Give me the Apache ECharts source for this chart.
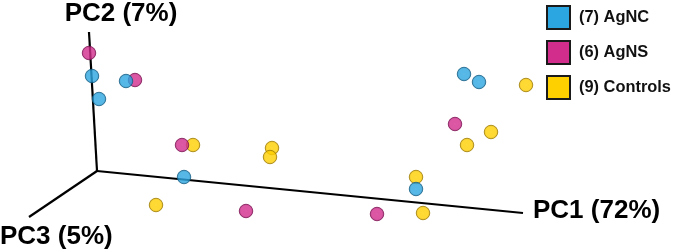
<!DOCTYPE html>
<html>
<head>
<meta charset="utf-8">
<script src="https://cdn.jsdelivr.net/npm/echarts@6/dist/echarts.min.js"></script>
<style>html,body{margin:0;padding:0;background:#fff}#c{width:675px;height:252px}</style>
</head>
<body>
<div id="c"></div>
<script>
// Projected sample positions (chart units)
const categories = ['(7) AgNC', '(6) AgNS', '(9) Controls'];
const agncPoints = [[92,76],[99,99],[126,81],[464,74],[479,82],[184,177],[416,189]];
const agnsPoints = [[89,53],[135,80],[182,145],[455,124],[246,211],[377,214]];
const controlPoints = [[526,85],[193,145],[272,148],[270,157],[156,205],[491,132],[467,145],[416,177],[423,213]];
// Axis endpoints (projected PC axes)
const axisOrigin = [97,171];
const pc1End = [523,213];
const pc2End = [89,32];
const pc3End = [29,217];
const axisLabels = ['PC1 (72%)', 'PC2 (7%)', 'PC3 (5%)'];

const colors = {
  '(7) AgNC': ['#2CA6E0', '#1B7DB0', '#145f86'],
  '(6) AgNS': ['#D22C8C', '#A0186A', '#7d1252'],
  '(9) Controls': ['#FFD000', '#D9A600', '#9e7d00']
};
function sphere(name) {
  const c = colors[name];
  return {
    color: {
      type: 'radial', x: 0.5, y: 0.5, r: 0.5,
      colorStops: [
        {offset: 0, color: '#ffffff'},
        {offset: 0.1, color: c[0]},
        {offset: 0.7, color: c[0]},
        {offset: 1, color: c[1]}
      ]
    },
    borderColor: c[2],
    borderWidth: 1
  };
}
const font = '"Liberation Sans", Arial, sans-serif';
function axisSeries(end) {
  return {
    type: 'line', data: [axisOrigin, end], symbol: 'none', silent: true,
    lineStyle: {color: '#000', width: 2.2}, z: 1, animation: false
  };
}
const chart = echarts.init(document.getElementById('c'));
chart.setOption({
  animation: false,
  grid: {left: 0, right: 0, top: 0, bottom: 0},
  xAxis: {type: 'value', min: 0, max: 675, show: false},
  yAxis: {type: 'value', min: 0, max: 252, inverse: true, show: false},
  legend: {
    orient: 'vertical', left: 546, top: 5, itemWidth: 23, itemHeight: 23, itemGap: 10,
    padding: 0,
    icon: 'rect',
    textStyle: {fontFamily: font, fontWeight: 'bold', fontSize: 16.4, color: '#111', padding: [0,0,0,4]},
    data: categories.map(n => ({name: n, itemStyle: {color: colors[n][0], borderColor: '#1a1a1a', borderWidth: 2, opacity: 1}}))
  },
  series: [
    axisSeries(pc1End), axisSeries(pc2End), axisSeries(pc3End),
    {name: categories[2], type: 'scatter', data: controlPoints, symbolSize: 13.5, itemStyle: sphere(categories[2]), z: 3},
    {name: categories[1], type: 'scatter', data: agnsPoints, symbolSize: 13.5, itemStyle: sphere(categories[1]), z: 4},
    {name: categories[0], type: 'scatter', data: agncPoints, symbolSize: 13.5, itemStyle: sphere(categories[0]), z: 5}
  ],
  graphic: [
    {type: 'text', x: 533, y: 211, style: {text: axisLabels[0], font: 'bold 26px ' + font, fill: '#000', textAlign: 'left', textVerticalAlign: 'middle'}},
    {type: 'text', x: 121, y: 14, style: {text: axisLabels[1], font: 'bold 26px ' + font, fill: '#000', textAlign: 'center', textVerticalAlign: 'middle'}},
    {type: 'text', x: 0, y: 237, style: {text: axisLabels[2], font: 'bold 26px ' + font, fill: '#000', textAlign: 'left', textVerticalAlign: 'middle'}}
  ]
});
</script>
</body>
</html>
